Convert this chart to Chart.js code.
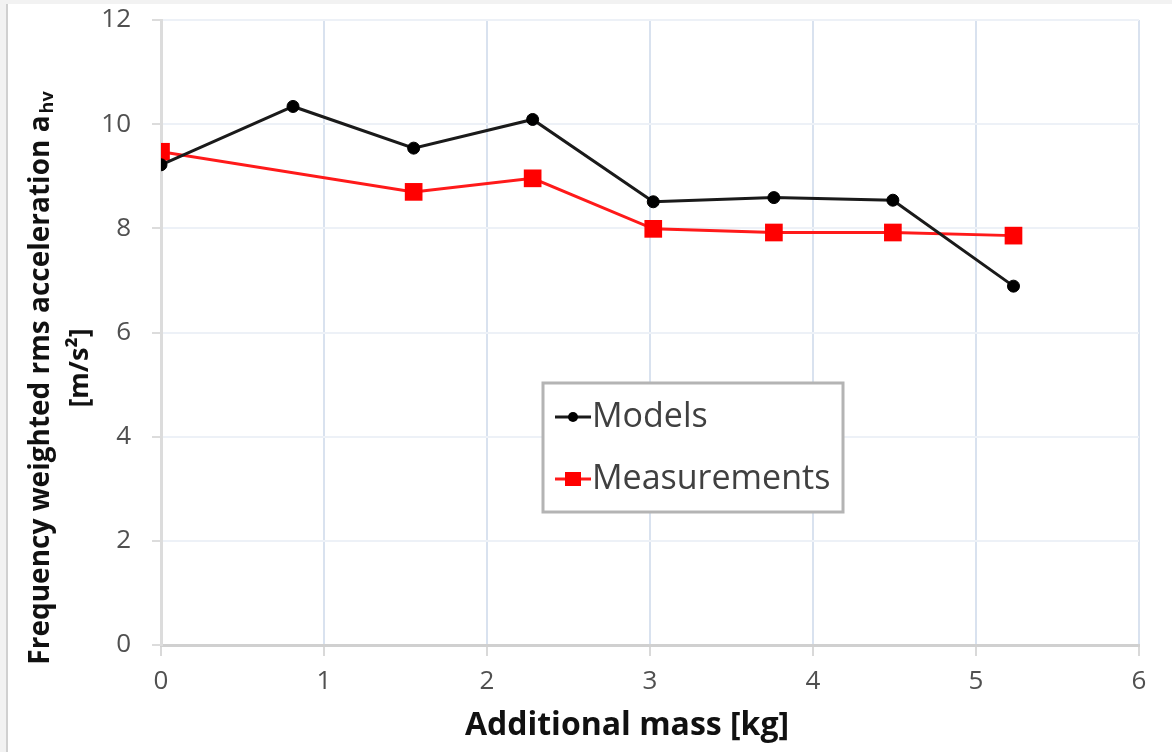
<!DOCTYPE html>
<html><head><meta charset="utf-8">
<script src="https://cdn.jsdelivr.net/npm/chart.js@4"></script>
<style>html,body{margin:0;padding:0;background:#fff;overflow:hidden}#wrap{position:absolute;left:0;top:0;width:1172px;height:752px}</style>
</head><body><div id="wrap"><canvas id="c" width="1172" height="752"></canvas></div>
<script>
// ---- data ----
const modelMassKg = [0, 0.81, 1.55, 2.28, 3.02, 3.76, 4.49, 5.23];
const modelValues = [9.22, 10.34, 9.54, 10.09, 8.51, 8.59, 8.54, 6.89];
const measMassKg = [0, 1.55, 2.28, 3.02, 3.76, 4.49, 5.23];
const measValues = [9.47, 8.70, 8.96, 7.99, 7.92, 7.92, 7.86];
const seriesNames = ['Models', 'Measurements'];
const xTicks = [0, 1, 2, 3, 4, 5, 6];
const yTicks = [0, 2, 4, 6, 8, 10, 12];
const xTitle = 'Additional mass [kg]';
const yTitleMain = 'Frequency weighted rms acceleration a';
const yTitleSub = 'hv';
const yTitleUnit = '[m/s\u00B2]';

const FONT = "'Open Sans', 'DejaVu Sans', sans-serif";
Chart.defaults.font.family = FONT;

const toPts = (xs, ys) => xs.map((x, i) => ({x: x, y: ys[i]}));

const framePlugin = {
  id: 'frame',
  beforeDraw(chart) {
    const ctx = chart.ctx;
    ctx.save();
    ctx.fillStyle = '#ffffff';
    ctx.fillRect(0, 0, chart.width, chart.height);
    ctx.fillStyle = '#f2f2f2';
    ctx.fillRect(0, 0, chart.width, 4);
    ctx.fillRect(0, 0, 6, chart.height);
    ctx.fillStyle = '#d0d0d0';
    ctx.fillRect(6, 4, 2, chart.height - 4);
    ctx.restore();
  }
};

const titlesPlugin = {
  id: 'axisTitles',
  afterDraw(chart) {
    const ctx = chart.ctx;
    const cy = 378;
    ctx.save();
    ctx.fillStyle = '#111111';
    ctx.textBaseline = 'middle';
    // x title
    ctx.font = "bold 32px " + FONT;
    ctx.textAlign = 'center';
    ctx.fillText(xTitle, 627, 726);
    // y title line 1
    ctx.save();
    ctx.translate(41, cy);
    ctx.rotate(-Math.PI / 2);
    const mainFont = "bold 28px " + FONT;
    const subFont = "bold 18px " + FONT;
    ctx.font = mainFont;
    const w1 = ctx.measureText(yTitleMain).width;
    ctx.font = subFont;
    const w2 = ctx.measureText(yTitleSub).width;
    const start = -(w1 + w2 + 2) / 2;
    ctx.textAlign = 'left';
    ctx.font = mainFont;
    ctx.fillText(yTitleMain, start, 0);
    ctx.font = subFont;
    ctx.fillText(yTitleSub, start + w1 + 2, 7);
    ctx.restore();
    // y title line 2
    ctx.save();
    ctx.translate(80, 368);
    ctx.rotate(-Math.PI / 2);
    ctx.font = "bold 27px " + FONT;
    ctx.textAlign = 'center';
    ctx.fillText(yTitleUnit, 0, 0);
    ctx.restore();
    ctx.restore();
  }
};

const legendPlugin = {
  id: 'boxLegend',
  afterDraw(chart) {
    const ctx = chart.ctx;
    const bx = 543, by = 383, bw = 300, bh = 129;
    ctx.save();
    ctx.fillStyle = '#ffffff';
    ctx.fillRect(bx, by, bw, bh);
    ctx.strokeStyle = '#b4b4b4';
    ctx.lineWidth = 3;
    ctx.strokeRect(bx, by, bw, bh);
    const rows = [417, 479];
    chart.data.datasets.forEach((ds, i) => {
      const y = rows[i];
      ctx.strokeStyle = ds.borderColor;
      ctx.lineWidth = 3;
      ctx.beginPath();
      ctx.moveTo(555, y);
      ctx.lineTo(591, y);
      ctx.stroke();
      ctx.fillStyle = ds.pointBackgroundColor;
      if (ds.pointStyle === 'rect') {
        ctx.fillRect(573 - 8, y - 7, 16, 14);
      } else {
        ctx.beginPath();
        ctx.arc(573, y, 5, 0, Math.PI * 2);
        ctx.fill();
      }
      ctx.fillStyle = '#404040';
      ctx.font = "34px " + FONT;
      ctx.textAlign = 'left';
      ctx.textBaseline = 'middle';
      ctx.fillText(ds.label, 592, y);
    });
    ctx.restore();
  }
};

new Chart(document.getElementById('c'), {
  type: 'scatter',
  data: {
    datasets: [
      {
        label: seriesNames[0],
        data: toPts(modelMassKg, modelValues),
        showLine: true,
        borderColor: '#1a1a1a',
        borderWidth: 3,
        pointStyle: 'circle',
        pointRadius: 6,
        pointBorderWidth: 1,
        pointBackgroundColor: '#000000',
        pointBorderColor: '#000000',
        tension: 0
      },
      {
        label: seriesNames[1],
        data: toPts(measMassKg, measValues),
        showLine: true,
        borderColor: '#ff1a1a',
        borderWidth: 3,
        pointStyle: 'rect',
        pointRadius: 12.5,
        pointBorderWidth: 0,
        pointBackgroundColor: '#ff0000',
        pointBorderColor: '#ff0000',
        tension: 0
      }
    ]
  },
  options: {
    responsive: false,
    animation: false,
    events: [],
    layout: {padding: {top: 20, right: 33, left: 0, bottom: 0}},
    plugins: {legend: {display: false}, tooltip: {enabled: false}},
    scales: {
      x: {
        type: 'linear',
        min: 0, max: 6,
        afterBuildTicks(s) { s.ticks = xTicks.map(v => ({value: v})); },
        afterFit(s) { s.height = 107; s.paddingLeft = 0; s.paddingRight = 0; },
        grid: {
          color: (c) => c.index === 0 ? '#d9d9d9' : '#d9e2ef',
          lineWidth: 2,
          tickLength: 11,
          tickColor: '#d9d9d9',
          drawTicks: true
        },
        border: {display: true, color: '#d0d0d0', width: 3},
        ticks: {color: '#505050', font: {size: 26}, padding: 10, maxRotation: 0},
        title: {display: false, text: xTitle}
      },
      y: {
        type: 'linear',
        min: 0, max: 12,
        afterBuildTicks(s) { s.ticks = yTicks.map(v => ({value: v})); },
        afterFit(s) { s.width = 161; s.paddingTop = 0; s.paddingBottom = 0; },
        grid: {
          color: (c) => c.index === 0 ? '#d0d0d0' : '#edf1f7',
          lineWidth: 2,
          tickLength: 9,
          tickColor: '#dcdcdc'
        },
        border: {display: true, color: '#dcdcdc', width: 3},
        ticks: {color: '#505050', font: {size: 26}, padding: 21}
      }
    }
  },
  plugins: [framePlugin, titlesPlugin, legendPlugin]
});
</script>
</body></html>
